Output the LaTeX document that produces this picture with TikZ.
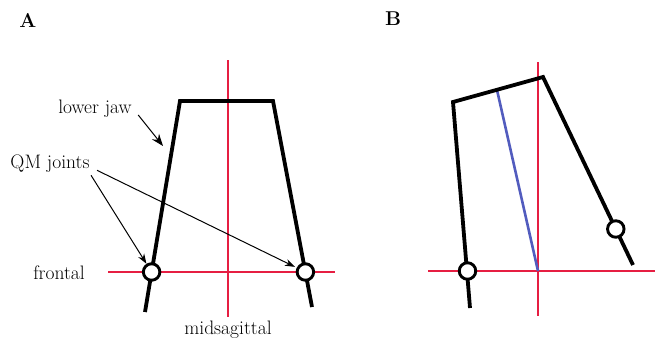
\documentclass[tikz,border=0pt]{standalone}
\usepackage{tikz}
\usetikzlibrary{arrows.meta}
\definecolor{planered}{RGB}{230,30,66}
\definecolor{axisblue}{RGB}{82,92,190}

\begin{document}
\begin{tikzpicture}[x=1pt, y=-1pt, >={Stealth[length=10pt,width=7pt]},
  jaw/.style={line width=3.8pt, line join=miter},
  plane/.style={draw=planered, line width=2.8pt},
  joint/.style={circle, draw, fill=white, line width=2.9pt, minimum size=16.5pt, inner sep=0pt},
  lbl/.style={font=\fontsize{19.5}{22}\selectfont},
  panel/.style={font=\bfseries\fontsize{20}{22}\selectfont},
  ptr/.style={->, line width=1pt}]
  \useasboundingbox (0,0) rectangle (655,345);
  % panel A
  \node[panel] (labA) at (28,21) {A};
  \coordinate (midtopA) at (228,60);
  \coordinate (midbotA) at (228,317);
  \coordinate (frontlA) at (108,272);
  \coordinate (frontrA) at (335,272);
  \draw[plane] (midtopA) -- (midbotA);
  \draw[plane] (frontlA) -- (frontrA);
  \draw[jaw] (145,312) -- (180,101) -- (273,101) -- (312,307);
  \node[joint] (qmL) at (151.6,272) {};
  \node[joint] (qmR) at (305.4,272) {};
  \node[lbl] (jawlbl) at (95,109) {lower jaw};
  \node[lbl] (qmlbl) at (50,164) {QM joints};
  \node[lbl] (frontlbl) at (59,273) {frontal};
  \node[lbl] (midlbl) at (228,330) {midsagittal};
  \coordinate (jawtip) at (163,146);
  \draw[ptr, >={Stealth[length=12pt,width=9pt]}] ([shift={(3,6)}]jawlbl.east) -- (jawtip);
  \draw[ptr] ([shift={(-2,-1)}]qmlbl.south east) -- (qmL);
  \draw[ptr, shorten >=2pt] ([shift={(4,-6)}]qmlbl.south east) -- (qmR);
  % panel B
  \node[panel] (labB) at (393,19) {B};
  \coordinate (midtopB) at (538,62);
  \coordinate (midbotB) at (538,316);
  \coordinate (frontlB) at (428,271);
  \coordinate (frontrB) at (655,271);
  \draw[plane] (midtopB) -- (midbotB);
  \draw[plane] (frontlB) -- (frontrB);
  \draw[axisblue, line width=2.6pt] (497,90) -- (538,271);
  \draw[jaw] (470,308) -- (453,102) -- (543,77) -- (633,265);
  \node[joint] (qmBL) at (467.5,271) {};
  \node[joint] (qmBR) at (615.8,229) {};
\end{tikzpicture}
\end{document}
